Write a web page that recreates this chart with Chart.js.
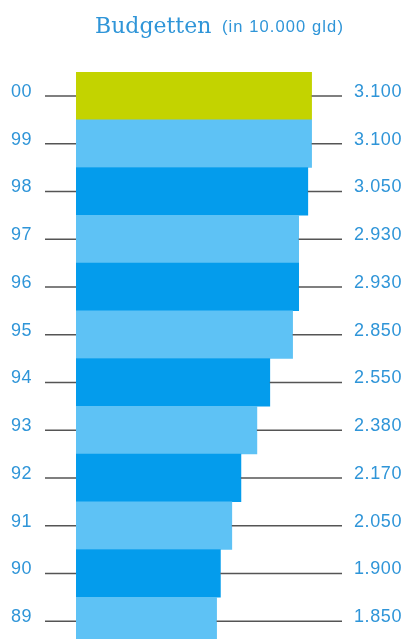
<!DOCTYPE html>
<html>
<head>
<meta charset="utf-8">
<script src="https://cdn.jsdelivr.net/npm/chart.js@4"></script>
<style>
    html, body { margin: 0; padding: 0; background: #ffffff; overflow: hidden; }
    #wrap { width: 403px; height: 645px; }
</style>
</head>
<body>
<div id="wrap"><canvas id="budget"></canvas></div>
<script>
// Data
const years = ["00", "99", "98", "97", "96", "95", "94", "93", "92", "91", "90", "89"];
const budgets = [3100, 3100, 3050, 2930, 2930, 2850, 2550, 2380, 2170, 2050, 1900, 1850];
const valueLabels = ["3.100", "3.100", "3.050", "2.930", "2.930", "2.850", "2.550", "2.380", "2.170", "2.050", "1.900", "1.850"];

const barColors = years.map(function (y, i) {
    if (i === 0) return "#c3d300";
    return i % 2 === 1 ? "#5ec2f5" : "#049cec";
});

const textBlue = "#2f95d8";
const lineGray = "#555555";

// draws title, year labels, value labels and the leader lines
const labelPlugin = {
    id: "labels",
    afterDatasetsDraw(chart) {
        const ctx = chart.ctx;
        const xs = chart.scales.x;
        const ys = chart.scales.y;
        ctx.save();

        // Title
        ctx.fillStyle = textBlue;
        ctx.textBaseline = "alphabetic";
        ctx.font = "22px 'DejaVu Serif'";
        ctx.fillText("Budgetten", 95, 33);
        ctx.font = "16.5px 'Liberation Sans'";
        ctx.letterSpacing = "1.1px";
        ctx.fillText("(in 10.000 gld)", 222, 32);

        ctx.font = "18px 'Liberation Sans'";
        ctx.letterSpacing = "0.6px";
        years.forEach(function (yr, i) {
            const y = ys.getPixelForValue(i);
            const x0 = xs.getPixelForValue(0);
            const xEnd = xs.getPixelForValue(budgets[i]);

            ctx.strokeStyle = lineGray;
            ctx.lineWidth = 1.5;
            ctx.beginPath();
            ctx.moveTo(45, y);
            ctx.lineTo(x0, y);
            ctx.moveTo(xEnd, y);
            ctx.lineTo(xs.right, y);
            ctx.stroke();

            ctx.fillStyle = textBlue;
            ctx.fillText(yr, 11, y + 1);
            ctx.fillText(valueLabels[i], 354, y + 1);
        });
        ctx.restore();
    }
};

let canvas = document.getElementById("budget");
let ctx1 = canvas.getContext("2d");
new Chart(ctx1, {
    type: "bar",
    data: {
        labels: years,
        datasets: [
            {
                label: "Budget",
                data: budgets,
                backgroundColor: barColors,
                borderWidth: 0,
                barPercentage: 1,
                categoryPercentage: 1
            }
        ]
    },
    options: {
        indexAxis: "y",
        responsive: true,
        maintainAspectRatio: false,
        animation: false,
        layout: { padding: { left: 76, right: 61, top: 72, bottom: 0 } },
        plugins: {
            legend: { display: false },
            tooltip: { enabled: false }
        },
        scales: {
            x: { display: false, min: 0, max: 3500 },
            y: { display: false }
        }
    },
    plugins: [labelPlugin]
});
</script>
</body>
</html>
